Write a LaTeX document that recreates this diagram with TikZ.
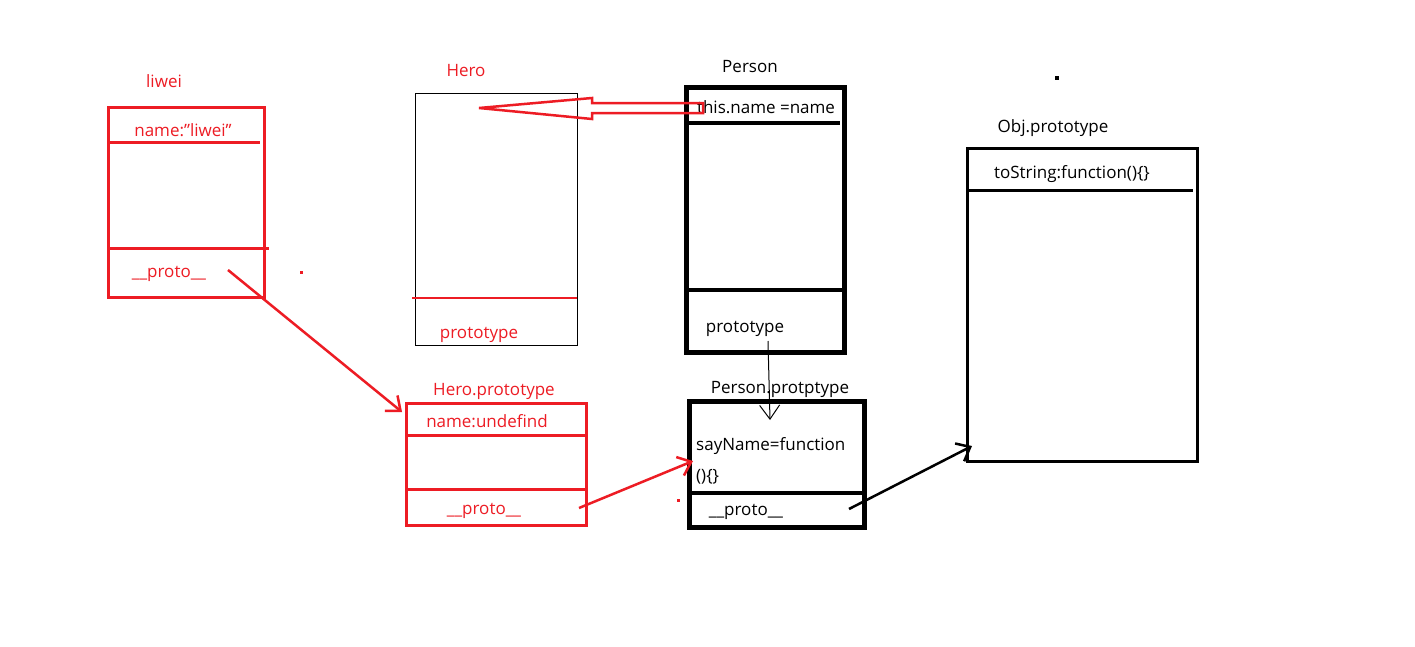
\documentclass[tikz,border=0pt]{standalone}
\usepackage{fontspec}
\setmainfont{Open Sans}
\usetikzlibrary{arrows.meta}
\definecolor{pred}{RGB}{237,28,36}
\newcommand{\dq}{\symbol{"22}}
\begin{document}
\begin{tikzpicture}[x=1pt,y=-1pt,
  txt/.style={font=\fontsize{17}{20}\selectfont, inner sep=0pt, yshift=-2.5pt},
  rtxt/.style={txt, text=pred},
  redbox/.style={draw=pred, line width=3pt, inner sep=0pt, anchor=north west},
  thinbox/.style={draw=black, line width=1pt, inner sep=0pt, anchor=north west},
  thickbox/.style={draw=black, line width=5pt, inner sep=0pt, anchor=north west},
  midbox/.style={draw=black, line width=3pt, inner sep=0pt, anchor=north west},
  redline/.style={draw=pred, line width=3pt},
  blkline/.style={draw=black, line width=4pt},
  redarrow/.style={draw=pred, line width=2.5pt, -{Straight Barb[length=12pt,width=20pt,line width=2.5pt]}},
  blkarrow/.style={draw=black, line width=2.5pt, -{Straight Barb[length=12pt,width=20pt,line width=2.5pt]}},
  thinarrow/.style={draw=black, line width=1pt, -{Straight Barb[length=14pt,width=20pt,line width=1pt]}},
]
\useasboundingbox (0,0) rectangle (1415,646);
\fill[white] (0,0) rectangle (1415,646);

% ---- liwei object ----
\node[redbox, minimum width=156pt, minimum height=190pt] (liwei) at (107,106) {};
\node[rtxt] (liweiT) at (164,79) {liwei};
\node[rtxt] (liweiName) at (183,128) {name:\dq liwei\dq};
\node[rtxt] (liweiProto) at (169,271) {\_\_proto\_\_};
\draw[redline] (110,142) -- (260,142);
\draw[redline] (107,248) -- (269,248);
\fill[pred] (300,271) rectangle (303,274);

% ---- Hero constructor ----
\node[thinbox, minimum width=162pt, minimum height=252pt] (hero) at (415,93) {};
\node[rtxt] (heroT) at (466,68) {Hero};
\node[rtxt] (heroProto) at (479,332) {prototype};
\draw[redline, line width=2.5pt] (412,298) -- (577,298);

% ---- Person constructor ----
\node[thickbox, minimum width=158pt, minimum height=265pt] (person) at (684,85) {};
\node[txt] (personT) at (750,64) {Person};
\node[txt] (personThis) at (766,105) {this.name =name};
\node[txt] (personProto) at (745,326) {prototype};
\draw[blkline] (686,123) -- (840,123);
\draw[blkline] (686,290) -- (846,290);

% hollow arrow: this.name -> Hero
\draw[pred, line width=2.5pt, line join=miter]
  (479,108) -- (592,98) -- (592,103) -- (703,103) -- (703,113)
  -- (592,113) -- (592,119) -- cycle;

% ---- Hero.prototype ----
\node[redbox, minimum width=180pt, minimum height=122pt] (heroP) at (405,402) {};
\node[rtxt] (heroPT) at (494,389) {Hero.prototype};
\node[rtxt] (heroPName) at (487,419) {name:undefind};
\node[rtxt] (heroPProto) at (484,508) {\_\_proto\_\_};
\draw[redline] (408,435) -- (585,435);
\draw[redline] (405,489) -- (585,489);

% ---- Person.prototype ----
\node[thickbox, minimum width=175pt, minimum height=126pt] (personP) at (687,399) {};
\node[txt] (personPT) at (780,387) {Person.protptype};
\node[txt, anchor=west] (personPSay) at (696,444) {sayName=function};
\node[txt, anchor=west] (personPFn) at (696,474) {()\{\}};
\node[txt] (personPProto) at (746,509) {\_\_proto\_\_};
\draw[blkline] (687,493) -- (862,493);
\fill[pred] (677,499) rectangle (680,502);

% ---- Obj.prototype ----
\node[midbox, minimum width=230pt, minimum height=313pt] (obj) at (966,147) {};
\node[txt] (objT) at (1053,126) {Obj.prototype};
\node[txt] (objStr) at (1072,172) {toString:function()\{\}};
\draw[black, line width=3pt] (967,190) -- (1193,190);
\fill[black] (1055,76) rectangle (1059,80);

% ---- prototype links ----
\coordinate (liweiOut) at (228,270);
\coordinate (heroPIn) at (402,412);
\coordinate (heroPOut) at (579,508);
\coordinate (personPIn) at (693,461);
\coordinate (personPOut) at (849,509);
\coordinate (objIn) at (972,446);
\coordinate (personDown) at (768,341);
\coordinate (personPTop) at (770,420);

\draw[redarrow] (liweiOut) -- (heroPIn);
\draw[redarrow] (heroPOut) -- (personPIn);
\draw[blkarrow] (personPOut) -- (objIn);
\draw[thinarrow] (personDown) -- (personPTop);
\end{tikzpicture}
\end{document}
